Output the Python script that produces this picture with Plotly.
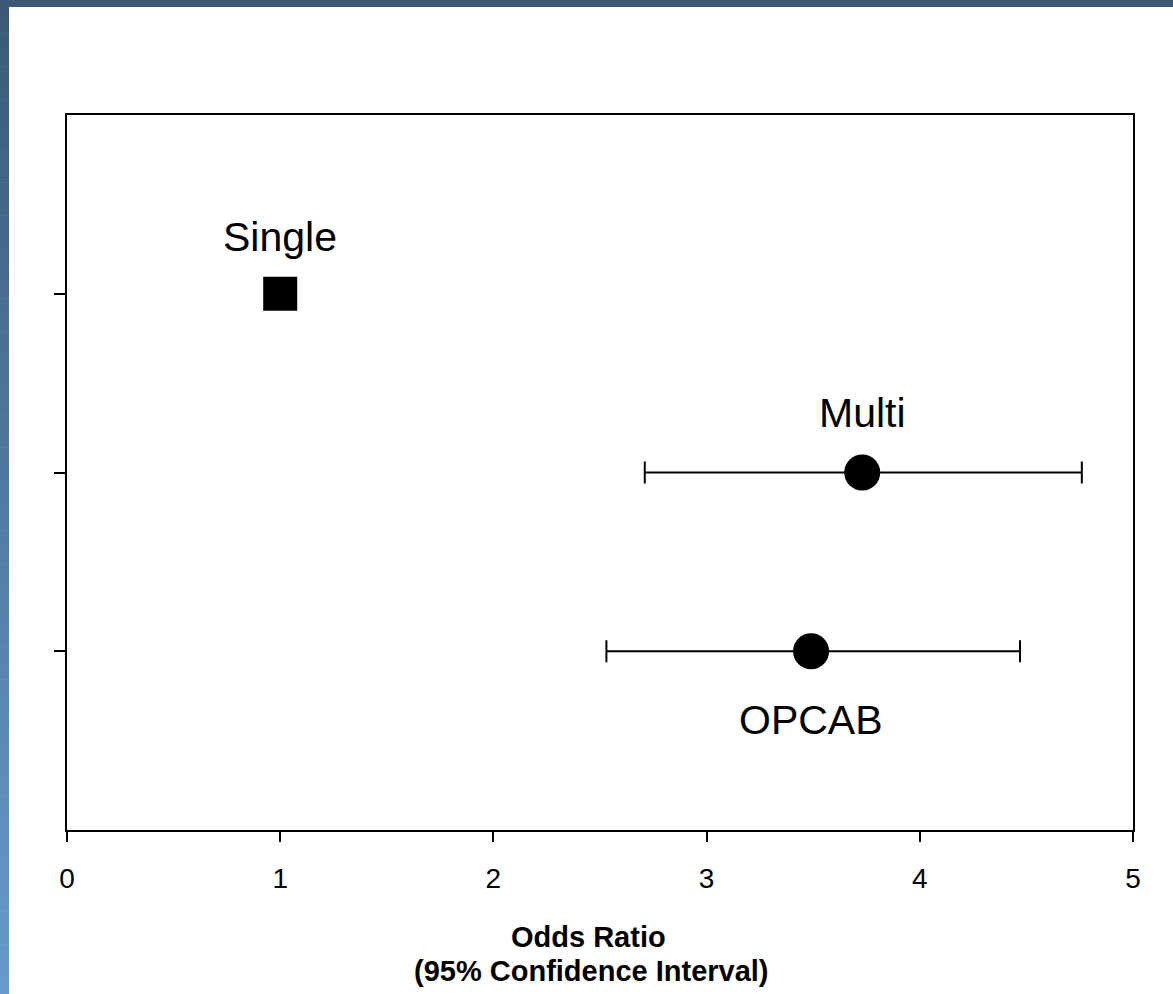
import plotly.graph_objects as go

# ---- data ----
groups = ["Single", "Multi", "OPCAB"]
y_pos = [3, 2, 1]
odds_ratio = [1.0, 3.73, 3.49]
ci_low = [1.0, 2.71, 2.53]
ci_high = [1.0, 4.76, 4.47]
x_ticks = [0, 1, 2, 3, 4, 5]

W, H = 1173, 994
L, R, T, B = 67, 40, 115, 164
pw, ph = W - L - R, H - T - B

fig = go.Figure()

# reference (single) group: square marker, no interval
fig.add_trace(go.Scatter(
    x=[odds_ratio[0]], y=[y_pos[0]], mode="markers",
    marker=dict(symbol="square", size=34, color="black", line=dict(width=0)),
    showlegend=False, hoverinfo="skip"))

# other groups with 95% CI
fig.add_trace(go.Scatter(
    x=odds_ratio[1:], y=y_pos[1:], mode="markers",
    marker=dict(symbol="circle", size=36, color="black", line=dict(width=0)),
    error_x=dict(type="data", symmetric=False,
                 array=[h - m for h, m in zip(ci_high[1:], odds_ratio[1:])],
                 arrayminus=[m - l for l, m in zip(ci_low[1:], odds_ratio[1:])],
                 color="black", thickness=2, width=11),
    showlegend=False, hoverinfo="skip"))

label_shift = {"Single": 57, "Multi": 60, "OPCAB": -69}
annotations = []
for g, xv, yv in zip(groups, odds_ratio, y_pos):
    annotations.append(dict(x=xv, y=yv, xref="x", yref="y", text=g,
                            showarrow=False, yshift=label_shift[g],
                            xanchor="center", yanchor="middle",
                            font=dict(family="Liberation Sans, Arial", size=41, color="black")))

# axis title lines
def py_to_paper(py):
    return (H - B - py) / ph

def px_to_xpaper(px):
    return (px - L) / pw

annotations.append(dict(x=px_to_xpaper(588), y=py_to_paper(937), xref="paper", yref="paper",
                        text="<b>Odds Ratio</b>", showarrow=False,
                        xanchor="center", yanchor="middle",
                        font=dict(family="Liberation Sans, Arial", size=29, color="black")))
annotations.append(dict(x=px_to_xpaper(591), y=py_to_paper(971), xref="paper", yref="paper",
                        text="<b>(95% Confidence Interval)</b>", showarrow=False,
                        xanchor="center", yanchor="middle",
                        font=dict(family="Liberation Sans, Arial", size=29, color="black")))

# decorative slide border (top bar + left gradient strip)
shapes = [dict(type="rect", xref="paper", yref="paper",
               x0=px_to_xpaper(0), x1=px_to_xpaper(W), y0=py_to_paper(7), y1=py_to_paper(0),
               fillcolor="#3b5a78", line=dict(width=0), layer="below")]
n = 60
c0 = (0x3b, 0x5a, 0x78)
c1 = (0x66, 0x9a, 0xcc)
for i in range(n):
    t = i / (n - 1)
    col = "rgb(%d,%d,%d)" % tuple(round(a + (b - a) * t) for a, b in zip(c0, c1))
    ytop = H * i / n
    ybot = H * (i + 1) / n
    shapes.append(dict(type="rect", xref="paper", yref="paper",
                       x0=px_to_xpaper(0), x1=px_to_xpaper(9),
                       y0=py_to_paper(ybot + 0.5), y1=py_to_paper(ytop),
                       fillcolor=col, line=dict(width=0), layer="below"))

fig.update_layout(
    width=W, height=H,
    margin=dict(l=L, r=R, t=T, b=B, pad=0),
    paper_bgcolor="white", plot_bgcolor="white",
    font=dict(family="Liberation Sans, Arial", color="black"),
    annotations=annotations, shapes=shapes,
    xaxis=dict(range=[0, 5], tickvals=x_ticks, ticktext=[str(v) for v in x_ticks],
               showgrid=False, zeroline=False, showline=True, linecolor="black",
               linewidth=2, mirror=True, ticks="outside", ticklen=10, tickwidth=2,
               tickcolor="black", tickfont=dict(size=28, color="black"),
               ticklabelstandoff=12),
    yaxis=dict(range=[0, 4], tickvals=y_pos, showticklabels=False,
               showgrid=False, zeroline=False, showline=True, linecolor="black",
               linewidth=2, mirror=True, ticks="outside", ticklen=11, tickwidth=2,
               tickcolor="black"),
)

fig.write_html("out.html", config={"displayModeBar": False},
               post_script="document.body.style.margin='0';document.body.style.overflow='hidden';")
